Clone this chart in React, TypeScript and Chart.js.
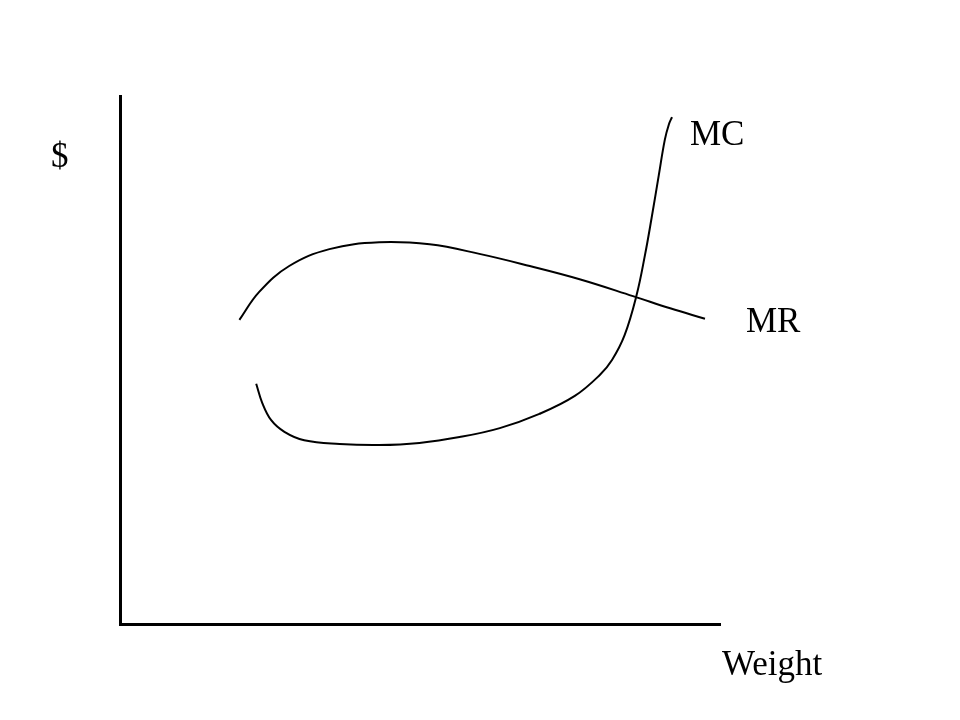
import React, { useEffect, useRef } from "react";
import { Chart, registerables } from "chart.js";

Chart.register(...registerables);

// Marginal revenue curve (weight units, $ units)
const mrX = [19.9, 23.2, 28.2, 34.9, 43.2, 51.6, 59.9, 68.3, 76.6, 85.5, 91.7, 97.5];
const mrY = [57.6, 62.9, 67.8, 71.0, 72.3, 71.9, 70.1, 67.8, 65.3, 62.1, 59.8, 57.8];

// Marginal cost curve
const mcX = [22.7, 23.7, 25.2, 27.4, 30.7, 36.6, 43.2, 49.9, 56.6, 63.3, 69.9, 75.8, 80.0, 82.0, 84.1, 86.1, 87.5, 88.6, 89.8, 90.8, 91.5, 92.0];
const mcY = [45.5, 41.9, 38.6, 36.4, 34.8, 34.1, 33.9, 34.3, 35.4, 37.1, 39.8, 43.2, 47.2, 50.0, 54.7, 62.3, 69.9, 76.9, 85.0, 91.7, 94.7, 96.0];

const yAxisLabel = "$";
const xAxisLabel = "Weight";
const mcLabel = "MC";
const mrLabel = "MR";

const FONT = "35px 'Liberation Serif', 'Times New Roman', serif";

const labelsPlugin = {
  id: "econLabels",
  afterDraw(chart: any) {
    const { ctx, chartArea, scales } = chart;
    const x = scales.x;
    const y = scales.y;
    ctx.save();
    ctx.fillStyle = "#000";
    ctx.font = FONT;
    ctx.textBaseline = "alphabetic";
    ctx.textAlign = "left";
    // $ label left of the y axis
    ctx.fillText(yAxisLabel, chartArea.left - 69, y.getPixelForValue(86.5));
    // MC label next to the top of the MC curve
    ctx.fillText(mcLabel, x.getPixelForValue(mcX[mcX.length - 1]) + 18, y.getPixelForValue(90.8));
    // MR label to the right of the MR curve end
    ctx.fillText(mrLabel, x.getPixelForValue(mrX[mrX.length - 1]) + 41, y.getPixelForValue(55.3));
    // Weight label below the x axis end
    ctx.fillText(xAxisLabel, chartArea.right + 2, chartArea.bottom + 51);
    ctx.restore();
  },
};

export default function App() {
  const ref = useRef<HTMLCanvasElement | null>(null);

  useEffect(() => {
    if (!ref.current) return;
    const chart = new Chart(ref.current, {
      type: "line",
      data: {
        datasets: [
          {
            label: mrLabel,
            data: mrX.map((v, i) => ({ x: v, y: mrY[i] })),
            borderColor: "#000",
            borderWidth: 2,
            pointRadius: 0,
            tension: 0.4,
            fill: false,
          },
          {
            label: mcLabel,
            data: mcX.map((v, i) => ({ x: v, y: mcY[i] })),
            borderColor: "#000",
            borderWidth: 2,
            pointRadius: 0,
            tension: 0.4,
            fill: false,
          },
        ],
      },
      options: {
        animation: false,
        responsive: false,
        maintainAspectRatio: false,
        layout: { padding: { left: 112, top: 96, right: 240, bottom: 88 } },
        plugins: {
          legend: { display: false },
          tooltip: { enabled: false },
          title: { display: false },
        },
        scales: {
          x: {
            type: "linear",
            min: 0,
            max: 100,
            grid: { display: false },
            ticks: { display: false },
            border: { display: true, color: "#000", width: 3 },
          },
          y: {
            type: "linear",
            min: 0,
            max: 100,
            grid: { display: false },
            ticks: { display: false },
            border: { display: true, color: "#000", width: 3 },
          },
        },
      },
      plugins: [labelsPlugin],
    });
    return () => chart.destroy();
  }, []);

  return (
    <div style={{ position: "absolute", left: 0, top: 0, width: 960, height: 720, background: "#fff" }}>
      <canvas ref={ref} width={960} height={720} style={{ width: 960, height: 720, display: "block" }} />
    </div>
  );
}
